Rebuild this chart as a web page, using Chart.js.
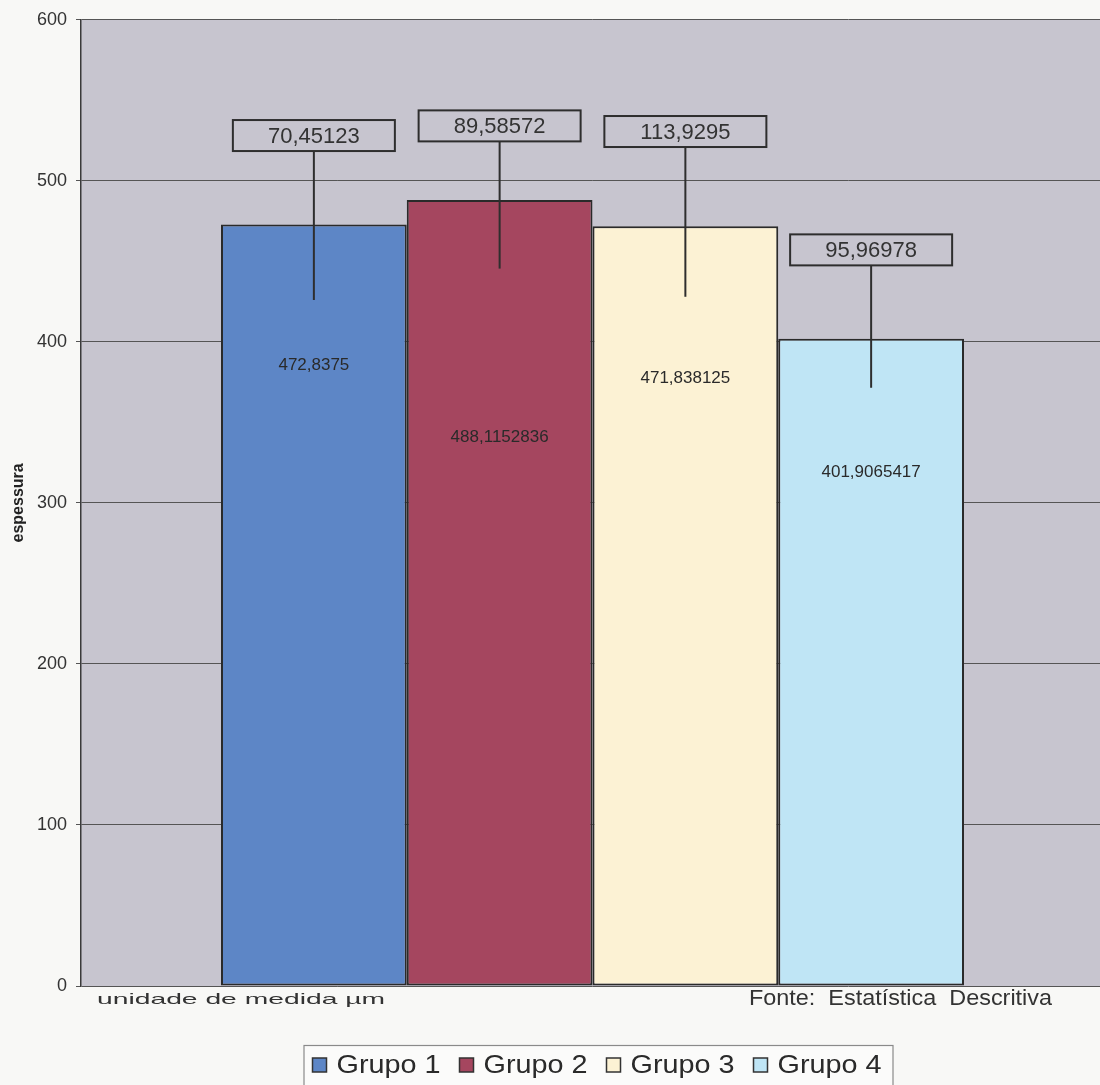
<!DOCTYPE html>
<html>
<head>
<meta charset="utf-8">
<script src="https://cdn.jsdelivr.net/npm/chart.js@4/dist/chart.umd.min.js"></script>
<style>
  html, body { margin: 0; padding: 0; background: #f8f8f6; overflow: hidden; }
  #wrap { width: 1104px; height: 1085px; }
</style>
</head>
<body>
<div id="wrap"><canvas id="c" width="1104" height="1085"></canvas></div>
<script>
// ---- data ----
const categories = ['Grupo 1', 'Grupo 2', 'Grupo 3', 'Grupo 4'];
const means = [472.8375, 488.1152836, 471.838125, 401.9065417];
const meanLabels = ['472,8375', '488,1152836', '471,838125', '401,9065417'];
const sdLabels = ['70,45123', '89,58572', '113,9295', '95,96978'];
const whiskerLow = [426, 445.5, 428, 371.5];
const whiskerHigh = [518.5, 524.5, 521, 447.5];
const meanLabelAt = [385.5, 341, 377.5, 319];
const yTicks = [0, 100, 200, 300, 400, 500, 600];
const colors = ['#5d86c6', '#a5465f', '#fcf2d4', '#bfe5f5'];

const PLOT_BG = '#c7c5cf';

const bgPlugin = {
  id: 'bg',
  beforeDraw(chart) {
    const { ctx, chartArea: a } = chart;
    ctx.save();
    ctx.fillStyle = '#f8f8f6';
    ctx.fillRect(0, 0, chart.width, chart.height);
    ctx.fillStyle = PLOT_BG;
    ctx.fillRect(a.left, a.top, a.right - a.left, a.bottom - a.top);
    ctx.restore();
  }
};

function stretchText(ctx, text, x, y, targetW) {
  const w = ctx.measureText(text).width;
  const s = targetW / w;
  ctx.save();
  ctx.translate(x, y);
  ctx.scale(s, 1);
  ctx.textAlign = 'left';
  ctx.fillText(text, 0, 0);
  ctx.restore();
}

const annotPlugin = {
  id: 'annot',
  afterDatasetsDraw(chart) {
    const { ctx } = chart;
    const y = chart.scales.y;
    ctx.save();
    categories.forEach((c, i) => {
      const bar = chart.getDatasetMeta(i).data[0];
      const x = bar.x;
      // mean label inside bar
      ctx.fillStyle = '#2a2a2a';
      ctx.font = '17px Arial, "Liberation Sans", sans-serif';
      ctx.textAlign = 'center';
      ctx.textBaseline = 'middle';
      ctx.fillText(meanLabels[i], x, y.getPixelForValue(meanLabelAt[i]));
      // error whisker line
      const yLo = y.getPixelForValue(whiskerLow[i]);
      const yHi = y.getPixelForValue(whiskerHigh[i]);
      ctx.strokeStyle = '#2e2e2e';
      ctx.lineWidth = 2;
      ctx.beginPath();
      ctx.moveTo(x, yLo);
      ctx.lineTo(x, yHi);
      ctx.stroke();
      // SD label box
      const bw = 162, bh = 31;
      ctx.strokeRect(x - bw / 2, yHi - bh, bw, bh);
      ctx.fillStyle = '#333';
      ctx.font = '22px Arial, "Liberation Sans", sans-serif';
      ctx.fillText(sdLabels[i], x, yHi - bh / 2 + 1);
    });
    ctx.restore();
  },
  afterDraw(chart) {
    const { ctx, chartArea: a } = chart;
    ctx.save();
    // y-axis title
    ctx.fillStyle = '#222';
    ctx.font = 'bold 16px Arial, "Liberation Sans", sans-serif';
    ctx.textAlign = 'center';
    ctx.textBaseline = 'middle';
    ctx.translate(19, (a.top + a.bottom) / 2);
    ctx.rotate(-Math.PI / 2);
    ctx.fillText('espessura', 0, 0);
    ctx.restore();

    ctx.save();
    ctx.fillStyle = '#333';
    ctx.textBaseline = 'alphabetic';
    ctx.font = '15px Arial, "Liberation Sans", sans-serif';
    stretchText(ctx, 'unidade de medida \u00b5m', a.left + 16, a.bottom + 18, 288);
    ctx.font = '22px Arial, "Liberation Sans", sans-serif';
    stretchText(ctx, 'Fonte:  Estat\u00edstica  Descritiva', 749, a.bottom + 19, 303);

    // legend
    const cx = (a.left + a.right) / 2;
    const lw = 589, lx = cx - 289, ly = 1045;
    ctx.fillStyle = '#fbfbfa';
    ctx.fillRect(lx, ly, lw, 50);
    ctx.strokeStyle = '#8a8a8a';
    ctx.lineWidth = 1.2;
    ctx.strokeRect(lx + 0.5, ly + 0.5, lw, 50);
    ctx.font = '25px Arial, "Liberation Sans", sans-serif';
    ctx.textBaseline = 'middle';
    categories.forEach((c, i) => {
      const sx = lx + 9 + i * 147;
      ctx.fillStyle = colors[i];
      ctx.fillRect(sx, 1058, 14, 14);
      ctx.strokeStyle = '#333';
      ctx.lineWidth = 1.5;
      ctx.strokeRect(sx, 1058, 14, 14);
      ctx.fillStyle = '#2a2a2a';
      stretchText(ctx, c, sx + 24, 1066, 104);
    });
    ctx.restore();
  }
};

new Chart(document.getElementById('c'), {
  type: 'bar',
  data: {
    labels: [''],
    datasets: categories.map((c, i) => ({
      label: c,
      data: [means[i]],
      backgroundColor: colors[i],
      borderColor: '#2a2a2a',
      borderWidth: 2,
      borderSkipped: false,
      categoryPercentage: 0.7263,
      barPercentage: 1.0
    }))
  },
  options: {
    responsive: false,
    animation: false,
    layout: { padding: { left: 0, top: 15, right: 0, bottom: 99 } },
    scales: {
      x: { display: false, offset: true },
      y: {
        min: 0,
        max: 600,
        afterBuildTicks(s) { s.ticks = yTicks.map(v => ({ value: v })); },
        afterFit(s) { s.width = 81; },
        ticks: {
          color: '#333',
          font: { family: 'Arial, "Liberation Sans", sans-serif', size: 18 },
          padding: 9
        },
        grid: { color: '#555', lineWidth: 1, tickLength: 5, drawTicks: true },
        border: { display: true, color: '#3a3a3a', width: 1.5 }
      }
    },
    plugins: { legend: { display: false }, tooltip: { enabled: false } }
  },
  plugins: [bgPlugin, annotPlugin]
});
</script>
</body>
</html>
